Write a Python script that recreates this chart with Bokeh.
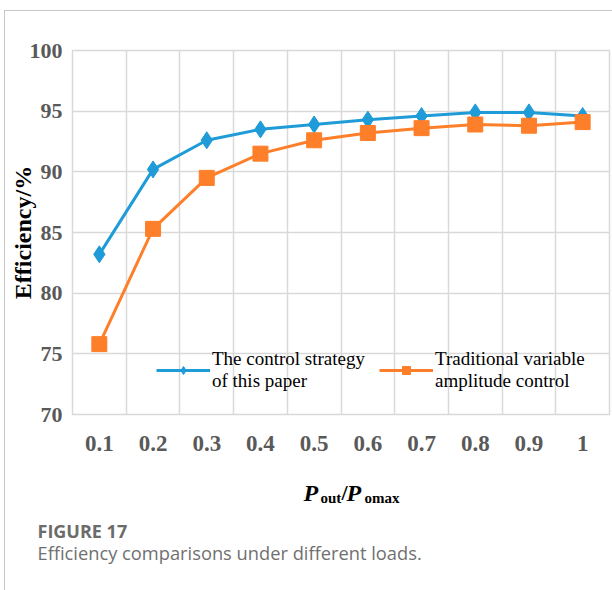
from bokeh.plotting import figure
from bokeh.layouts import column
from bokeh.models import (FixedTicker, Range1d, Label, Legend, LegendItem)
from bokeh.embed import file_html
from bokeh.resources import INLINE

# ---- data ----
load_labels = ["0.1", "0.2", "0.3", "0.4", "0.5", "0.6", "0.7", "0.8", "0.9", "1"]
eff_proposed = [83.2, 90.2, 92.6, 93.5, 93.9, 94.3, 94.6, 94.9, 94.9, 94.6]
eff_traditional = [75.8, 85.3, 89.5, 91.5, 92.6, 93.2, 93.6, 93.9, 93.8, 94.1]
y_ticks = [70, 75, 80, 85, 90, 95, 100]
series_names = ["The control strategy\nof this paper", "Traditional variable\namplitude control"]

x_idx = list(range(len(load_labels)))

BLUE = "#1f9bd7"
ORANGE = "#fe7f2a"
GRID = "#d9d9d9"
SERIF = "Liberation Serif"

W = 607
p = figure(width=W, height=449, output_backend="svg", toolbar_location=None,
           x_range=Range1d(-0.5, len(load_labels) - 0.5), y_range=Range1d(70, 100),
           min_border_left=67, min_border_right=3, min_border_top=39, min_border_bottom=46)
p.frame_align = False
p.background_fill_color = "white"
p.border_fill_color = "white"
p.outline_line_color = GRID
p.outline_line_width = 1.5

# grids
p.xgrid.ticker = FixedTicker(ticks=[i - 0.5 for i in x_idx] + [len(x_idx) - 0.5])
p.ygrid.ticker = FixedTicker(ticks=y_ticks)
for g in (p.xgrid[0], p.ygrid[0]):
    g.grid_line_color = GRID
    g.grid_line_width = 1.5

# axes
xa = p.xaxis[0]
xa.ticker = FixedTicker(ticks=x_idx)
xa.major_label_overrides = {i: lbl for i, lbl in zip(x_idx, load_labels)}
ya = p.yaxis[0]
ya.ticker = FixedTicker(ticks=y_ticks)
for ax in (xa, ya):
    ax.axis_line_color = None
    ax.major_tick_line_color = None
    ax.minor_tick_line_color = None
    ax.major_label_text_font = SERIF
    ax.major_label_text_font_style = "bold"
    ax.major_label_text_color = "#595959"
xa.major_label_text_font_size = "23px"
ya.major_label_text_font_size = "22px"
xa.major_label_standoff = 15
ya.major_label_standoff = 4
ya.axis_label = "Efficiency/%"
ya.axis_label_text_font = SERIF
ya.axis_label_text_font_style = "bold"
ya.axis_label_text_font_size = "24px"
ya.axis_label_text_color = "black"
ya.axis_label_standoff = -9

# series
l1 = p.line(x_idx, eff_proposed, line_color=BLUE, line_width=3)
m1 = p.scatter(x_idx, eff_proposed, marker="diamond", size=17, fill_color=BLUE, line_color=BLUE)
l2 = p.line(x_idx, eff_traditional, line_color=ORANGE, line_width=3)
m2 = p.scatter(x_idx, eff_traditional, marker="square", size=15, fill_color=ORANGE, line_color=ORANGE)

legend = Legend(items=[LegendItem(label=series_names[0], renderers=[l1, m1]),
                       LegendItem(label=series_names[1], renderers=[l2, m2])],
                orientation="horizontal", location=(84, 22),
                glyph_width=54, glyph_height=20, label_standoff=2, spacing=14,
                padding=0, margin=0, border_line_color=None, background_fill_alpha=0,
                label_text_font=SERIF, label_text_font_size="19px", label_text_color="black",
                label_text_line_height=1.45)
p.add_layout(legend, "center")

# ---- lower panel: x-axis title and caption ----
H2 = 130
q = figure(width=W, height=H2, output_backend="svg", toolbar_location=None,
           x_range=Range1d(0, W), y_range=Range1d(H2, 0),
           x_axis_type=None, y_axis_type=None,
           min_border_left=0, min_border_right=0, min_border_top=0, min_border_bottom=0)
q.frame_align = False
q.grid.visible = False
q.outline_line_color = None
q.background_fill_color = "white"
q.border_fill_color = "white"

def piece(txt, x, y, size, style, font=SERIF, color="black", baseline="alphabetic"):
    q.add_layout(Label(x=x, y=y, text=txt, text_font=font, text_font_size=size,
                       text_font_style=style, text_color=color,
                       text_baseline=baseline, text_align="left"))

piece("P", 298, 32, "24px", "bold italic")
piece("out", 315, 37, "15px", "bold")
piece("/", 336, 32, "22px", "bold")
piece("P", 341, 32, "24px", "bold italic")
piece("omax", 359, 37, "15px", "bold")

piece("FIGURE 17", 32, 70, "18px", "bold", font="Open Sans", color="#6b6b6b", baseline="middle")
piece("Efficiency comparisons under different loads.", 32, 92, "18.3px", "normal",
      font="Open Sans", color="#707070", baseline="middle")

layout = column(p, q, spacing=0)
layout.margin = (10, 0, 0, 4)
layout.styles = {"border-top": "1px solid #c8c8c8", "border-left": "1px solid #c8c8c8"}

open("out.html", "w").write(file_html(layout, INLINE))
